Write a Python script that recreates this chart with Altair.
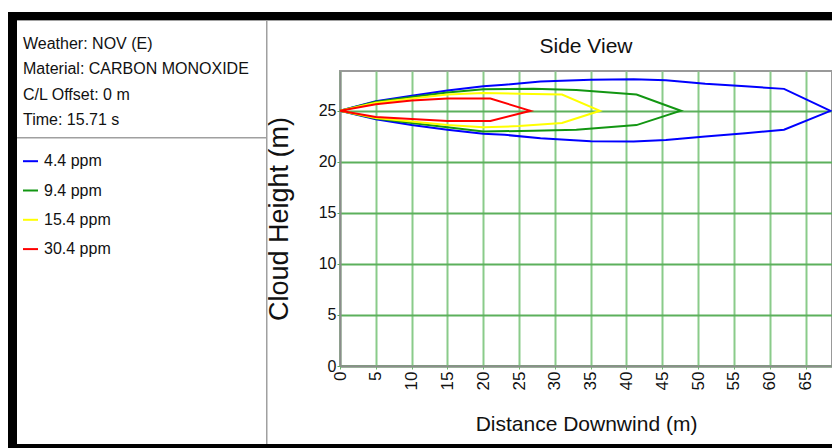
import altair as alt
import pandas as pd

# ---------------- data ----------------
series_labels = ["4.4 ppm", "9.4 ppm", "15.4 ppm", "30.4 ppm"]
series_colors = ["#0000ff", "#129612", "#ffff00", "#ff0000"]

blue_x = [0, 5, 10, 15, 20, 23, 28, 35, 41, 45.5, 51, 56.6, 62, 68.5]
blue_upper = [25, 25.95, 26.47, 27.0, 27.4, 27.55, 27.87, 28.05, 28.1, 28.0, 27.65, 27.4, 27.15, 25]
blue_lower = [25, 24.18, 23.6, 23.14, 22.75, 22.65, 22.3, 22.03, 22.0, 22.15, 22.48, 22.8, 23.15, 25]

green_x = [0, 5, 10, 15, 20, 27, 33, 41.4, 47.6]
green_upper = [25, 25.9, 26.35, 26.8, 27.1, 27.15, 27.05, 26.6, 25]
green_lower = [25, 24.25, 23.8, 23.4, 22.97, 23.05, 23.15, 23.6, 25]

yellow_x = [0, 5, 10, 15, 20, 25, 31, 36.3]
yellow_upper = [25, 25.8, 26.2, 26.6, 26.75, 26.68, 26.6, 25]
yellow_lower = [25, 24.3, 23.95, 23.6, 23.4, 23.5, 23.8, 25]

red_x = [0, 5, 10, 15, 21, 26.6]
red_upper = [25, 25.65, 26.0, 26.2, 26.2, 25]
red_lower = [25, 24.4, 24.2, 24.0, 24.0, 25]

info_lines = ["Weather: NOV (E)", "Material: CARBON MONOXIDE",
              "C/L Offset: 0 m", "Time: 15.71 s"]
chart_title = "Side View"
x_title = "Distance Downwind (m)"
y_title = "Cloud Height (m)"
x_ticks = [0, 5, 10, 15, 20, 25, 30, 35, 40, 45, 50, 55, 60, 65]
y_ticks = [0, 5, 10, 15, 20, 25]

# --------------- build table ---------------
rows = []
for label, xs, up, lo in [
    (series_labels[0], blue_x, blue_upper, blue_lower),
    (series_labels[1], green_x, green_upper, green_lower),
    (series_labels[2], yellow_x, yellow_upper, yellow_lower),
    (series_labels[3], red_x, red_upper, red_lower),
]:
    k = 0
    for x, y in zip(xs, up):
        rows.append({"series": label, "x": x, "y": y, "order": k})
        k += 1
    for x, y in zip(reversed(xs[:-1]), reversed(lo[:-1])):
        rows.append({"series": label, "x": x, "y": y, "order": k})
        k += 1
df = pd.DataFrame(rows)

FONT = "Liberation Sans"
W, H = 492, 295
dummy = pd.DataFrame({"d": [0]})

def box(x1, x2, y1, y2, color):
    return alt.Chart(dummy).mark_rect(color=color, clip=False).encode(
        x=alt.value(x1), x2=alt.value(x2), y=alt.value(y1), y2=alt.value(y2))

frame = [
    box(-332, 500, -59, -51, "#000000"),   # top black band
    box(-332, -323, -59, 380, "#000000"),  # left black band
    box(-332, 500, 373, 380, "#000000"),   # bottom black line
    box(-323, 500, -51, -50, "#a0a0a0"),   # grey line under band
    box(-74, -72.5, -50, 373, "#a0a0a0"),  # panel divider (vertical)
    box(-323, -73, 66, 67.5, "#a0a0a0"),   # panel divider (horizontal)
]

panel_text = alt.Chart(dummy).mark_text(
    align="left", baseline="alphabetic", font=FONT, fontSize=16,
    lineHeight=25.4, color="#111111", clip=False
).encode(x=alt.value(-317), y=alt.value(-22), text=alt.value(info_lines))

title_text = alt.Chart(dummy).mark_text(
    align="center", baseline="alphabetic", font=FONT, fontSize=21,
    color="#111111", clip=False
).encode(x=alt.value(W / 2), y=alt.value(-18), text=alt.value(chart_title))

lines = alt.Chart(df).mark_line(strokeWidth=2).encode(
    x=alt.X("x:Q",
            scale=alt.Scale(domain=[0, 68.7], nice=False, zero=False),
            axis=alt.Axis(values=x_ticks, title=x_title, labelAngle=270,
                          labelFontSize=17, labelPadding=2, tickSize=3,
                          tickColor="#6cbb6c", gridColor="#8acb8a", gridWidth=2,
                          titleFontSize=21, titleFontWeight="normal",
                          titleBaseline="alphabetic", titleY=64,
                          titleX=W / 2)),
    y=alt.Y("y:Q",
            scale=alt.Scale(domain=[0, 28.9], nice=False),
            axis=alt.Axis(values=y_ticks, title=y_title, labelFontSize=16,
                          labelPadding=1, tickSize=3, tickColor="#52a852",
                          gridColor="#5cb05c", gridWidth=2,
                          titleFontSize=27, titleFontWeight="normal",
                          titleAngle=270, titleBaseline="alphabetic",
                          titleAlign="center", titleX=-53, titleY=H / 2)),
    color=alt.Color("series:N",
                    scale=alt.Scale(domain=series_labels, range=series_colors),
                    legend=alt.Legend(orient="none", legendX=-318, legendY=81.7,
                                      title=None, symbolType="stroke",
                                      symbolSize=225, symbolStrokeWidth=2,
                                      labelFontSize=16, labelFont=FONT,
                                      labelColor="#111111", rowPadding=12.3,
                                      labelOffset=5, padding=0)),
    order="order:Q",
)

chart = alt.layer(*frame, panel_text, title_text, lines).properties(
    width=W, height=H,
    padding={"left": 332, "top": 63, "right": 0, "bottom": 82},
    autosize=alt.AutoSizeParams(type="none"),
).configure_view(stroke="#999999", strokeWidth=2).configure_axis(
    labelFont=FONT, titleFont=FONT, labelColor="#111111", titleColor="#111111",
    domainColor="#8c8c8c", domainWidth=2
)

chart.save("out.html", embed_options={"renderer": "svg", "actions": False})
